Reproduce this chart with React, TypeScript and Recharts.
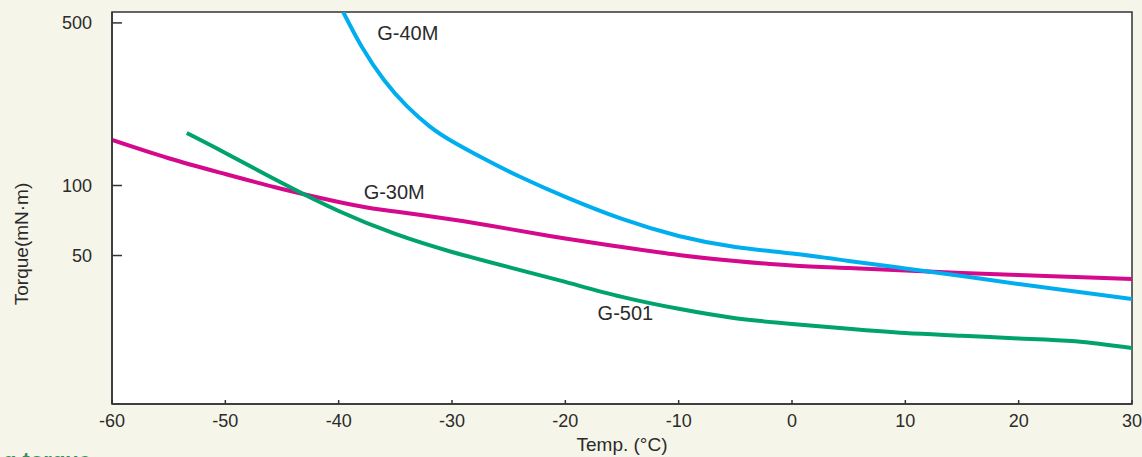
import React from 'react';
import {
  LineChart,
  Line,
  XAxis,
  YAxis,
  CartesianGrid,
  ReferenceArea,
  ReferenceDot,
} from 'recharts';

// ─── Data ─────────────────────────────────────────────────────────────────────

const g40mTemp = [-39.6, -38, -36, -34, -32, -30, -27, -24, -20, -15, -10, -5, 0, 5, 10, 15, 20, 25, 30];
const g40mTorque = [557, 398, 284, 220, 180, 155, 129, 109, 89.3, 71.8, 60.7, 54.4, 51, 47.4, 44, 40.8, 37.7, 35, 32.5];

const g30mTemp = [-60, -55, -50, -45, -40, -37, -35, -30, -25, -20, -15, -10, -5, 0, 5, 10, 15, 20, 25, 30];
const g30mTorque = [157, 131, 112, 96.6, 85, 79.7, 77.3, 71.4, 65.1, 59.2, 54.4, 50.3, 47.4, 45.3, 44.2, 43.1, 42.1, 41.2, 40.4, 39.6];

const g501Temp = [-53.4, -50, -45, -40, -35, -30, -25, -20, -15, -10, -5, 0, 5, 10, 15, 20, 25, 30];
const g501Torque = [168, 138, 102.5, 77.7, 61.9, 51.8, 44.6, 38.5, 33.2, 29.5, 26.9, 25.4, 24.2, 23.2, 22.6, 22, 21.4, 20];

const xTicks = [-60, -50, -40, -30, -20, -10, 0, 10, 20, 30];
const yTicks = [50, 100, 500];

const toRows = (t: number[], v: number[]) => t.map((temp, i) => ({ t: temp, v: v[i] }));

const TEXT = '#2b2b2b';
const FONT = '"Liberation Sans", Arial, Helvetica, sans-serif';

function YLabel(props: any) {
  const vb = props.viewBox || {};
  const x = (vb.x ?? 0) + 28;
  const y = (vb.y ?? 0) + (vb.height ?? 0) / 2 + 36;
  return (
    <text
      x={x}
      y={y}
      transform={`rotate(-90, ${x}, ${y})`}
      textAnchor="middle"
      fill={TEXT}
      fontSize={19}
      fontFamily={FONT}
    >
      Torque(mN·m)
    </text>
  );
}

export default function App() {
  return (
    <div
      style={{
        position: 'fixed',
        top: 0,
        left: 0,
        width: 1142,
        height: 457,
        background: '#f5f6e9',
        overflow: 'hidden',
        fontFamily: FONT,
      }}
    >
      <LineChart width={1142} height={457} margin={{ top: 12, right: 10, bottom: 0, left: 0 }}>
        <CartesianGrid fill="#ffffff" horizontal={false} vertical={false} />
        <XAxis
          type="number"
          dataKey="t"
          domain={[-60, 30]}
          ticks={xTicks}
          allowDataOverflow
          height={53}
          tickSize={-4}
          tickMargin={14}
          stroke="#333"
          strokeWidth={1.5}
          tick={{ fill: TEXT, fontSize: 18, fontFamily: FONT }}
          label={{ value: 'Temp. (°C)', position: 'insideBottom', offset: 6, fill: TEXT, fontSize: 19, fontFamily: FONT }}
        />
        <YAxis
          type="number"
          scale="log"
          domain={[11.5, 557]}
          ticks={yTicks}
          allowDataOverflow
          width={112}
          tickSize={-10}
          tickMargin={30}
          stroke="#333"
          strokeWidth={1.5}
          tick={{ fill: TEXT, fontSize: 18, fontFamily: FONT }}
          label={<YLabel />}
        />
        <ReferenceArea x1={-60} x2={30} y1={11.5} y2={557} fill="none" stroke="#333" strokeWidth={1.5} />

        <Line data={toRows(g30mTemp, g30mTorque)} dataKey="v" type="natural" stroke="#d4098b" strokeWidth={4} dot={false} isAnimationActive={false} />
        <Line data={toRows(g501Temp, g501Torque)} dataKey="v" type="natural" stroke="#00a36c" strokeWidth={4} dot={false} isAnimationActive={false} />
        <Line data={toRows(g40mTemp, g40mTorque)} dataKey="v" type="natural" stroke="#00aeef" strokeWidth={4} dot={false} isAnimationActive={false} />

        <ReferenceDot x={-33.9} y={452} r={0} label={{ value: 'G-40M', position: 'center', fill: TEXT, fontSize: 20, fontFamily: FONT }} />
        <ReferenceDot x={-35.1} y={93.8} r={0} label={{ value: 'G-30M', position: 'center', fill: TEXT, fontSize: 20, fontFamily: FONT }} />
        <ReferenceDot x={-14.7} y={28.3} r={0} label={{ value: 'G-501', position: 'center', fill: TEXT, fontSize: 20, fontFamily: FONT }} />
      </LineChart>
      <div
        style={{
          position: 'absolute',
          left: 3,
          top: 450,
          fontSize: 22,
          lineHeight: '22px',
          fontWeight: 'bold',
          color: '#3c8a5c',
          whiteSpace: 'nowrap',
        }}
      >
        g torque
      </div>
    </div>
  );
}
